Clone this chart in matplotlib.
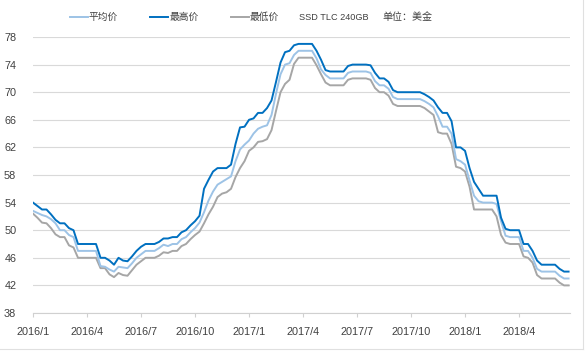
import numpy as np
import matplotlib
matplotlib.use("Agg")
import matplotlib.pyplot as plt
from matplotlib.lines import Line2D

plt.rcParams['font.family'] = ['Liberation Sans', 'Noto Sans CJK SC', 'DejaVu Sans']

# weekly prices, SSD TLC 240GB (USD)
max_price = [
    54, 53.5, 53, 53, 52.3, 51.5, 51, 51, 50.3, 50,
    48, 48, 48, 48, 48, 46, 46, 45.6, 45, 46,
    45.6, 45.5, 46.2, 47, 47.6, 48, 48, 48, 48.3, 48.8,
    48.8, 49, 49, 49.7, 50, 50.7, 51.3, 52.1, 56, 57.3,
    58.5, 59, 59, 59, 59.5, 62.5, 64.9, 65, 66, 66.2,
    67, 67, 67.7, 68.8, 71.5, 74.3, 75.8, 76, 76.8, 77,
    77, 77, 77, 76, 74.7, 73.2, 73, 73, 73, 73,
    73.8, 74, 74, 74, 74, 73.9, 72.8, 72, 72, 71.5,
    70.3, 70, 70, 70, 70, 70, 70, 69.7, 69.3, 68.8,
    67.8, 67, 67, 65.8, 62, 62, 61.5, 59, 57, 56,
    55, 55, 55, 55, 51.8, 50.2, 50, 50, 50, 48,
    48, 47, 45.6, 45, 45, 45, 45, 44.4, 44, 44,
]
avg_price = [
    52.8, 52.5, 52.2, 52, 51.6, 51, 50, 50, 49.3, 49,
    47, 47, 47, 47, 47, 44.8, 44.7, 44.3, 44, 44.7,
    44.6, 44.5, 45.2, 46, 46.5, 47, 47, 47, 47.4, 47.9,
    47.7, 48, 48, 48.7, 49, 49.7, 50.3, 51.1, 52.6, 54.3,
    55.6, 56.6, 57, 57.4, 57.8, 60, 61.7, 62.4, 63, 64,
    64.7, 65, 65.2, 66.7, 69.8, 72.6, 74, 74.2, 75.4, 76,
    76, 76, 76, 74.9, 73.3, 72.5, 72, 72, 72, 72,
    72.8, 73, 73, 73, 73, 72.8, 71.6, 71, 71, 70.5,
    69.3, 69, 69, 69, 69, 69, 69, 68.7, 68.3, 67.8,
    66.5, 65, 65, 64, 60.3, 60, 59.5, 57.2, 55, 54.2,
    54, 54, 54, 53.8, 51.3, 49.2, 49, 49, 49, 47,
    47, 46, 44.4, 44, 44, 44, 44, 43.4, 43, 43,
]
min_price = [
    52.4, 51.8, 51.1, 51, 50.3, 49.4, 49, 49, 47.8, 47.5,
    46, 46, 46, 46, 46, 44.5, 44.5, 43.6, 43.2, 43.8,
    43.5, 43.4, 44.2, 45, 45.5, 46, 46, 46, 46.3, 46.8,
    46.7, 47, 47, 47.7, 48, 48.7, 49.3, 49.8, 51, 52.3,
    53.4, 54.8, 55.3, 55.5, 56, 57.7, 59, 60, 61.5, 62,
    62.8, 62.9, 63.2, 64.5, 67.3, 70, 71.2, 71.8, 74.1, 75,
    75, 75, 75, 73.9, 72.6, 71.4, 71, 71, 71, 71,
    71.8, 72, 72, 72, 72, 71.8, 70.6, 70, 70, 69.5,
    68.3, 68, 68, 68, 68, 68, 68, 67.7, 67.2, 66.7,
    64.2, 64, 64, 62.5, 59.2, 59, 58.5, 56.3, 53, 53,
    53, 53, 53, 52, 49.3, 48.2, 48, 48, 48, 46.2,
    46, 45.3, 43.5, 43, 43, 43, 43, 42.4, 42, 42,
]
tick_labels = ['2016/1', '2016/4', '2016/7', '2016/10', '2017/1',
               '2017/4', '2017/7', '2017/10', '2018/1', '2018/4']
series_names = ['平均价', '最高价', '最低价']

# x in months since 2016/1, one point per week
x = np.arange(len(max_price)) / 4.0

fig = plt.figure(figsize=(5.87, 3.51), dpi=100)
ax = fig.add_axes([33/587, 38/351, 537/587, 276/351])

l_avg, = ax.plot(x, avg_price, color='#9DC3E6', lw=1.4, zorder=3)
l_max, = ax.plot(x, max_price, color='#0070C0', lw=1.4, zorder=4)
l_min, = ax.plot(x, min_price, color='#A6A6A6', lw=1.4, zorder=2)

ax.set_ylim(38, 78)
ax.set_yticks(np.arange(38, 79, 4))
ax.set_xlim(0, 29.83)
ax.set_xticks(np.arange(len(tick_labels)) * 3)
ax.set_xticklabels(tick_labels)

ax.grid(axis='y', color='#D9D9D9', lw=0.8)
ax.set_axisbelow(True)
for s in ['top', 'right', 'left']:
    ax.spines[s].set_visible(False)
ax.spines['bottom'].set_color('#D0D0D0')
ax.spines['bottom'].set_linewidth(0.8)
ax.tick_params(axis='y', length=0, pad=12, labelsize=7.8, labelcolor='#404040')
ax.tick_params(axis='x', length=3, width=0.8, color='#D0D0D0', pad=7,
               labelsize=7.8, labelcolor='#404040')

# legend row at top
fig.legend([l_avg, l_max, l_min], series_names, loc='center left',
           bbox_to_anchor=(70/587, 1 - 17/351), ncol=3, frameon=False,
           fontsize=7.0, handlelength=1.85, handletextpad=0.1,
           columnspacing=3.3, borderpad=0, borderaxespad=0,
           labelcolor='#404040')
fig.text(299/587, 1 - 17/351, 'SSD TLC 240GB', va='center', fontsize=6.6, color='#404040')
fig.text(382/587, 1 - 17/351, '单位：美金', va='center', fontsize=7.2, color='#404040')

# faint chart border on right and bottom
fig.add_artist(Line2D([583/587, 583/587], [2/351, 1], color='#E0E0E0', lw=0.8))
fig.add_artist(Line2D([0, 583/587], [2/351, 2/351], color='#E0E0E0', lw=0.8))

fig.savefig('out.png', dpi=100)
